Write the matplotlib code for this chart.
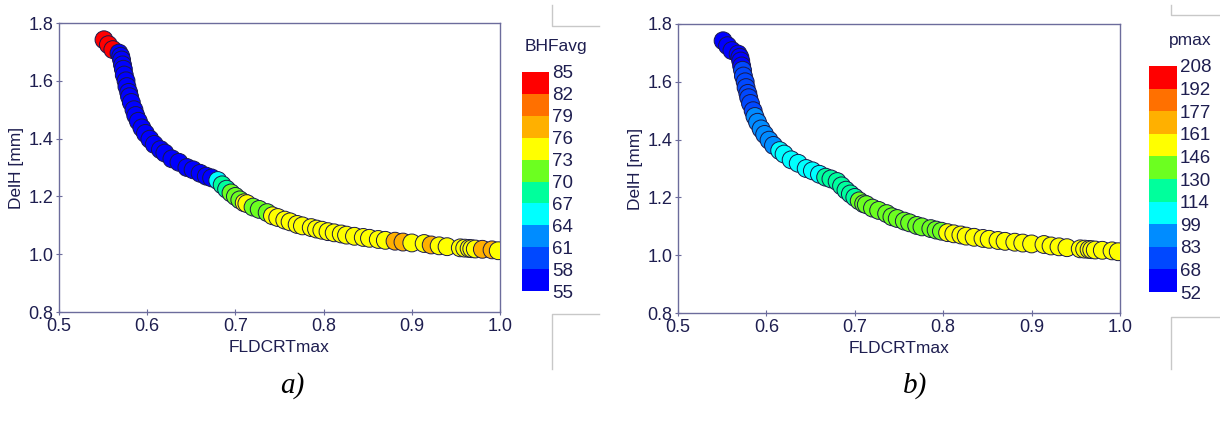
import numpy as np
import matplotlib
matplotlib.use("Agg")
import matplotlib.pyplot as plt
from matplotlib.colors import ListedColormap, BoundaryNorm
from matplotlib.lines import Line2D

# design points (shared by both panels)
fldcrt_max = [0.551, 0.556, 0.561, 0.568, 0.570, 0.571, 0.572, 0.573, 0.574, 0.576,
              0.577, 0.579, 0.580, 0.582, 0.585, 0.587, 0.590, 0.594, 0.598, 0.603,
              0.608, 0.615, 0.620, 0.628, 0.636, 0.645, 0.652, 0.660, 0.667, 0.673,
              0.680, 0.685, 0.690, 0.695, 0.700, 0.705, 0.710, 0.713, 0.720, 0.727,
              0.736, 0.742, 0.748, 0.756, 0.762, 0.770, 0.776, 0.786, 0.792, 0.798,
              0.805, 0.812, 0.820, 0.826, 0.835, 0.845, 0.852, 0.862, 0.870, 0.881,
              0.890, 0.900, 0.914, 0.922, 0.931, 0.940, 0.955, 0.960, 0.965, 0.968,
              0.972, 0.980, 0.991, 0.998]
delh = [1.742, 1.725, 1.708, 1.696, 1.685, 1.672, 1.655, 1.640, 1.620, 1.600,
        1.580, 1.560, 1.545, 1.525, 1.500, 1.480, 1.460, 1.437, 1.418, 1.398,
        1.380, 1.362, 1.350, 1.330, 1.318, 1.300, 1.292, 1.280, 1.270, 1.264,
        1.255, 1.240, 1.225, 1.212, 1.200, 1.188, 1.178, 1.175, 1.163, 1.155,
        1.144, 1.133, 1.127, 1.118, 1.112, 1.103, 1.098, 1.092, 1.087, 1.083,
        1.078, 1.074, 1.070, 1.066, 1.062, 1.058, 1.055, 1.051, 1.048, 1.045,
        1.042, 1.039, 1.037, 1.032, 1.029, 1.026, 1.022, 1.021, 1.020, 1.019,
        1.018, 1.017, 1.015, 1.012]
bhf_avg = [84, 84, 83, 56, 56, 56, 56, 56, 56, 56,
           56, 56, 56, 56, 56, 56, 56, 56, 56, 56,
           56, 56, 56, 56, 56, 56, 56, 56, 56, 57,
           65, 68, 69, 71, 71, 72, 74, 74, 71, 72,
           72, 74, 74, 74, 74, 74, 74, 74, 74, 74,
           74, 74, 74, 74, 74, 74, 74, 74, 74, 77,
           77, 74, 74, 77, 74, 74, 74, 74, 74, 74,
           74, 77, 77, 74]
p_max = [53, 54, 55, 57, 60, 62, 66, 70, 72, 72,
         74, 75, 76, 78, 80, 85, 86, 88, 88, 90,
         92, 100, 102, 104, 104, 106, 106, 110, 116, 118,
         120, 120, 122, 124, 128, 132, 132, 134, 136, 136,
         138, 138, 140, 140, 140, 142, 142, 142, 144, 144,
         148, 148, 150, 150, 150, 152, 152, 152, 152, 154,
         154, 154, 154, 156, 156, 156, 156, 158, 158, 158,
         158, 158, 158, 160]

bhf_levels = [55, 58, 61, 64, 67, 70, 73, 76, 79, 82, 85]
pmax_levels = [52, 68, 83, 99, 114, 130, 146, 161, 177, 192, 208]
band_colors = ['#0000ff', '#0048ff', '#008cff', '#00ffff', '#00ff9c',
               '#6cff20', '#ffff00', '#ffb000', '#ff7000', '#ff0000']

TXT = '#1e1e50'
FRAME = '#6c6c9c'
plt.rcParams['font.family'] = ['Liberation Sans', 'DejaVu Sans']

cmap = ListedColormap(band_colors)
W, H = 1220.0, 440.0


def px(x0, y0, x1, y1):
    # pixel box (top-left origin) -> figure fraction rect
    return [x0 / W, 1 - y1 / H, (x1 - x0) / W, (y1 - y0) / H]


def draw_panel(fig, ax_box, cb_box, title_xy, values, levels, title, tag, tag_x):
    ax = fig.add_axes(px(*ax_box))
    norm = BoundaryNorm(levels, cmap.N)
    ax.scatter(fldcrt_max, delh, c=values, cmap=cmap, norm=norm, s=165,
               edgecolors='#1a1a4a', linewidths=0.7, zorder=3)
    ax.set_xlim(0.5, 1.0)
    ax.set_ylim(0.8, 1.8)
    ax.set_xticks(np.arange(0.5, 1.01, 0.1))
    ax.set_yticks(np.arange(0.8, 1.81, 0.2))
    ax.xaxis.set_major_formatter(plt.FormatStrFormatter('%.1f'))
    ax.yaxis.set_major_formatter(plt.FormatStrFormatter('%.1f'))
    for s in ax.spines.values():
        s.set_color(FRAME)
        s.set_linewidth(1.0)
    ax.tick_params(direction='inout', length=4, width=0.8, color=FRAME,
                   labelcolor=TXT, labelsize=13, pad=2)
    ax.set_xlabel('FLDCRTmax', color=TXT, fontsize=12.5, labelpad=4)
    ax.set_ylabel('DelH [mm]', color=TXT, fontsize=12.5, labelpad=3)

    cax = fig.add_axes(px(*cb_box))
    cb = fig.colorbar(plt.cm.ScalarMappable(norm=norm, cmap=cmap), cax=cax,
                      ticks=levels, spacing='uniform')
    cb.outline.set_visible(False)
    cax.tick_params(length=0, labelcolor=TXT, labelsize=13.5, pad=2)
    cax.set_yticklabels([str(v) for v in levels])
    fig.text(title_xy[0] / W, 1 - title_xy[1] / H, title, color=TXT,
             fontsize=12.5, ha='center', va='center')
    fig.text(tag_x / W, 1 - 386 / H, tag, family='Liberation Serif',
             style='italic', fontsize=21, ha='center', va='center', color='black')
    return ax


fig = plt.figure(figsize=(12.2, 4.4), dpi=100)
draw_panel(fig, (59, 23, 500, 312), (522, 72, 549, 291), (556, 46),
           bhf_avg, bhf_levels, 'BHFavg', 'a)', 292)
draw_panel(fig, (678, 24, 1120, 313), (1149, 66, 1177, 292), (1190, 41),
           p_max, pmax_levels, 'pmax', 'b)', 915)

# light grey corner marks around the legend boxes
corner = '#c8c8c8'
for xs, ys in [((552, 552, 599), (5, 26, 26)), ((599, 552, 552), (314, 314, 369)),
               ((1171, 1171, 1220), (5, 15, 15)), ((1220, 1171, 1171), (317, 317, 369))]:
    fig.add_artist(Line2D([x / W for x in xs], [1 - y / H for y in ys],
                          transform=fig.transFigure, color=corner, lw=1.0))

fig.savefig('out.png', dpi=100)
